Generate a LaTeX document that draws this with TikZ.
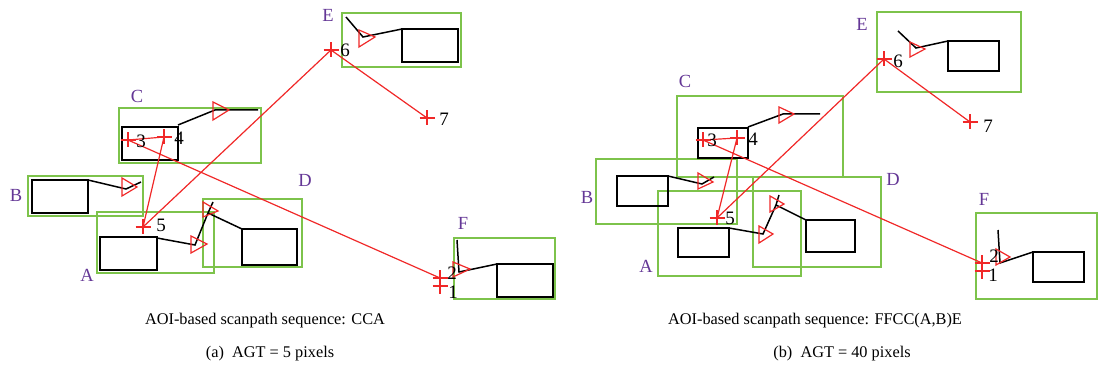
\documentclass[tikz,border=0pt]{standalone}
\usepackage{fontspec}
\setmainfont{Liberation Serif}
\definecolor{aoigreen}{RGB}{125,195,75}
\definecolor{aoipurple}{RGB}{100,55,150}
\definecolor{fixred}{RGB}{240,40,40}
\tikzset{
  aoibox/.style={draw=aoigreen, line width=1.4pt},
  imgline/.style={draw=black, line width=1.5pt},
  tri/.style={draw=fixred, line width=1.2pt},
  scan/.style={draw=fixred, line width=1.2pt},
  aoilbl/.style={text=aoipurple, font=\fontsize{18.5}{18.5}\selectfont, inner sep=0pt},
  numlbl/.style={text=black, font=\fontsize{19}{19}\selectfont, inner sep=0pt},
  caplbl/.style={text=black, font=\fontsize{16.3}{18}\selectfont, inner sep=0pt, anchor=base},
  fixmark/.pic={\draw[fixred, line width=1.2pt] (-7.5,0) -- (7.5,0) (0,-7.5) -- (0,7.5);}
}
\begin{document}
\begin{tikzpicture}[x=1pt, y=-1pt]
\useasboundingbox (0,0) rectangle (1098,374);

% ================= LEFT PANEL (a) =================
% AOI boxes
\draw[aoibox] (97,212) rectangle (214,273);
\draw[aoibox] (28,176) rectangle (143,216);
\draw[aoibox] (119,108) rectangle (261,163);
\draw[aoibox] (203,199) rectangle (302,267);
\draw[aoibox] (342,13) rectangle (461,67);
\draw[aoibox] (454,238) rectangle (555,299);
% icons
\draw[imgline] (122,127) rectangle (178,160);
\draw[imgline] (178,125) -- (215,110) -- (258,110);
\draw[tri] (213,102) -- (213,120) -- (229,110) -- cycle;
\draw[imgline] (32,180) rectangle (88,213);
\draw[imgline] (88,180) -- (126,189) -- (141,182);
\draw[tri] (122,178) -- (122,196) -- (137,187) -- cycle;
\draw[imgline] (100,237) rectangle (157,270);
\draw[imgline] (157,238) -- (195,245) -- (208,213) -- (213,202);
\draw[tri] (191,236) -- (191,253) -- (207,244) -- cycle;
\draw[imgline] (242,229) rectangle (297,265);
\draw[imgline] (242,229) -- (208,213);
\draw[tri] (203,202) -- (203,217) -- (218,211) -- cycle;
\draw[imgline] (402,29) rectangle (458,62);
\draw[imgline] (402,29) -- (363,37) -- (346,17);
\draw[tri] (359,30) -- (359,47) -- (375,37) -- cycle;
\draw[imgline] (497,264) rectangle (553,297);
\draw[imgline] (497,264) -- (459,272) -- (457,240);
\draw[tri] (453,262) -- (453,277) -- (470,269) -- cycle;
% AOI labels
\node[aoilbl] (la) at (87,275) {A};
\node[aoilbl] (lb) at (16,195) {B};
\node[aoilbl] (lc) at (137,96) {C};
\node[aoilbl] (ld) at (305,180) {D};
\node[aoilbl] (le) at (328,15) {E};
\node[aoilbl] (lf) at (463,223) {F};
% fixations
\coordinate (a1) at (440,286);
\coordinate (a2) at (440,278);
\coordinate (a3) at (128,140);
\coordinate (a4) at (164,137);
\coordinate (a5) at (143,227);
\coordinate (a6) at (331,50);
\coordinate (a7) at (427,118);
\draw[scan] (a1) -- (a2) -- (a3) -- (a4) -- (a5) -- (a6) -- (a7);
\foreach \p in {a1,a2,a3,a4,a5,a6,a7} { \pic at (\p) {fixmark}; }
\node[numlbl] (na1) at (453,292) {1};
\node[numlbl] (na2) at (452,273) {2};
\node[numlbl] (na3) at (141,141) {3};
\node[numlbl] (na4) at (179,138) {4};
\node[numlbl] (na5) at (161,225) {5};
\node[numlbl] (na6) at (345,50) {6};
\node[numlbl] (na7) at (444,119) {7};
% captions
\node[caplbl] (capa1) at (265,324) {AOI-based scanpath sequence: CCA};
\node[caplbl] (capa2) at (270,357) {(a)\enspace AGT = 5 pixels};

% ================= RIGHT PANEL (b) =================
\draw[aoibox] (658,191) rectangle (801,276);
\draw[aoibox] (596,159) rectangle (737,224);
\draw[aoibox] (677,96) rectangle (843,177);
\draw[aoibox] (753,177) rectangle (881,267);
\draw[aoibox] (877,12) rectangle (1021,92);
\draw[aoibox] (976,213) rectangle (1097,299);
% icons
\draw[imgline] (698,128) rectangle (748,158);
\draw[imgline] (748,127) -- (783,114) -- (820,114);
\draw[tri] (779,107) -- (779,123) -- (794,114) -- cycle;
\draw[imgline] (617,176) rectangle (668,206);
\draw[imgline] (668,176) -- (702,184) -- (714,177);
\draw[tri] (698,173) -- (698,189) -- (713,182) -- cycle;
\draw[imgline] (678,228) rectangle (729,257);
\draw[imgline] (729,228) -- (763,234) -- (776,205) -- (779,195);
\draw[tri] (759,226) -- (759,243) -- (773,234) -- cycle;
\draw[imgline] (806,220) rectangle (855,252);
\draw[imgline] (806,220) -- (776,205);
\draw[tri] (770,196) -- (770,212) -- (784,204) -- cycle;
\draw[imgline] (948,41) rectangle (999,71);
\draw[imgline] (948,41) -- (916,48) -- (898,31);
\draw[tri] (910,42) -- (910,57) -- (925,49) -- cycle;
\draw[imgline] (1033,252) rectangle (1084,282);
\draw[imgline] (1033,252) -- (1000,263) -- (998,230);
\draw[tri] (996,249) -- (996,265) -- (1010,257) -- cycle;
% AOI labels
\node[aoilbl] (ra) at (646,266) {A};
\node[aoilbl] (rb) at (587,197) {B};
\node[aoilbl] (rc) at (685,81) {C};
\node[aoilbl] (rd) at (893,179) {D};
\node[aoilbl] (re) at (862,24) {E};
\node[aoilbl] (rf) at (984,199) {F};
% fixations
\coordinate (b1) at (982,271);
\coordinate (b2) at (982,263);
\coordinate (b3) at (703,140);
\coordinate (b4) at (737,138);
\coordinate (b5) at (717,218);
\coordinate (b6) at (884,59);
\coordinate (b7) at (970,122);
\draw[scan] (b1) -- (b2) -- (b3) -- (b4) -- (b5) -- (b6) -- (b7);
\foreach \p in {b1,b2,b3,b4,b5,b6,b7} { \pic at (\p) {fixmark}; }
\node[numlbl] (nb1) at (993,275) {1};
\node[numlbl] (nb2) at (994,256) {2};
\node[numlbl] (nb3) at (712,140) {3};
\node[numlbl] (nb4) at (753,139) {4};
\node[numlbl] (nb5) at (730,218) {5};
\node[numlbl] (nb6) at (898,61) {6};
\node[numlbl] (nb7) at (988,126) {7};
% captions
\node[caplbl] (capb1) at (815,324) {AOI-based scanpath sequence: FFCC(A,B)E};
\node[caplbl] (capb2) at (842,357) {(b)\enspace AGT = 40 pixels};
\end{tikzpicture}
\end{document}
